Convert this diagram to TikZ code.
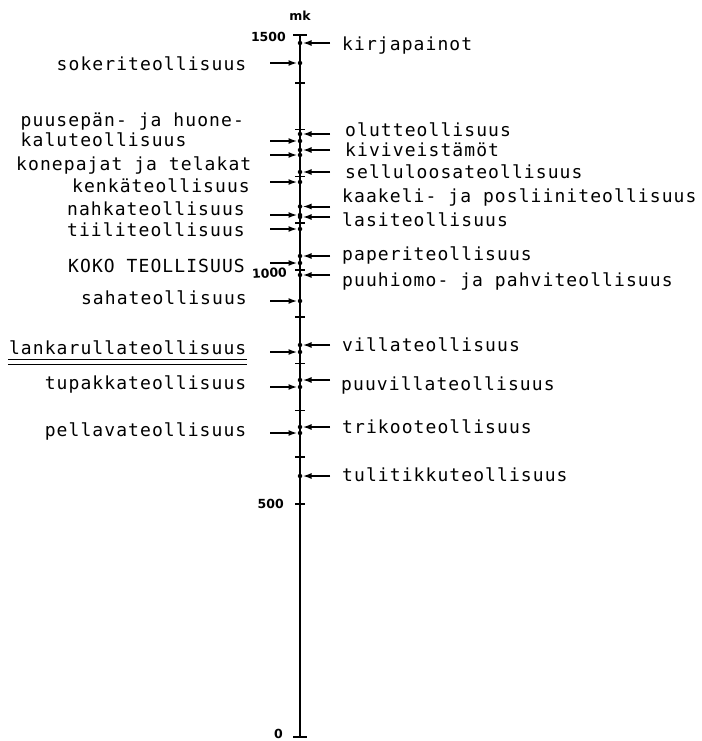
\documentclass[tikz,border=0pt]{standalone}
\usepackage{fontspec}
\newfontfamily\plotfont[LetterSpace=6]{DejaVu Sans Mono}
\newfontfamily\lukufont{DejaVu Sans}
\usetikzlibrary{arrows.meta}

\tikzset{
  akseli/.style={line width=2.6bp},
  jako/.style={line width=1.6bp},
  nuoli/.style={line width=2bp,-{Latex[length=9bp,width=6bp]}},
  teksti/.style={inner sep=0pt,font=\plotfont\fontsize{18bp}{20bp}\selectfont},
  luku/.style={inner sep=0pt,font=\lukufont\bfseries\fontsize{12.5bp}{13bp}\selectfont},
  piste/.style={fill,circle,inner sep=0pt,minimum size=4.5bp}
}

\begin{document}
\begin{tikzpicture}[x=1bp,y=-1bp]
  \useasboundingbox (0,0) rectangle (702,741);
  % asteikko
  \coordinate (yla) at (300,35);
  \coordinate (ala) at (300,737);
  \draw[akseli] (yla) -- (ala);
  \draw[jako] ([xshift=-7bp]yla) -- ([xshift=7bp]yla);
  \draw[jako] ([xshift=-7bp]ala) -- ([xshift=7bp]ala);
  \foreach \v in {500,600,...,1400}
    \draw[jako] (295,{738-0.468*\v}) -- (305,{738-0.468*\v});
  \node[luku,anchor=base] (mk) at (300,21) {mk};
  \node[luku,anchor=east] (m1500) at (286,37) {1500};
  \node[luku,anchor=east,rotate=4] (m1000) at (287,272) {1000};
  \node[luku,anchor=east] (m500) at (284,504) {500};
  \node[luku,anchor=east] (m0) at (283,733.5) {0};
  % vasen puoli
  \foreach \nimi/\yn/\yt/\xt/\teksti in {
      sokeri/63/71/246.5/sokeriteollisuus,
      konepaja/155/170.5/251.5/konepajat ja telakat,
      kenka/182/192.5/250/kenkäteollisuus,
      nahka/215/215.5/245/nahkateollisuus,
      tiili/229/236.5/245/tiiliteollisuus,
      koko/263/272.5/245/KOKO TEOLLISUUS,
      saha/301/304.5/247/sahateollisuus,
      lanka/352/354/246.5/lankarullateollisuus,
      tupakka/387/389.5/246.5/tupakkateollisuus,
      pellava/433/436.5/246.5/pellavateollisuus} {
    \coordinate (\nimi) at (300,\yn);
    \node[teksti,anchor=base east] (\nimi-t) at (\xt,\yt) {\teksti};
    \draw[nuoli] ([xshift=-30bp]\nimi) -- ([xshift=-2.5bp]\nimi);
    \node[piste] (\nimi-p) at (\nimi) {};
  }
  \coordinate (puuseppa) at (300,141);
  \node[teksti,anchor=base west] (puuseppa-t) at (20.5,146.5)
    {\begin{tabular}[b]{@{}l@{}}puusepän- ja huone-\\kaluteollisuus\end{tabular}};
  \draw[nuoli] ([xshift=-30bp]puuseppa) -- ([xshift=-2.5bp]puuseppa);
  \node[piste] (puuseppa-p) at (puuseppa) {};
  \draw[line width=1.3bp] ([shift={(-1bp,-5.5bp)}]lanka-t.base west) -- ([yshift=-5.5bp]lanka-t.base east);
  \draw[line width=1.3bp] ([shift={(-1bp,-10.5bp)}]lanka-t.base west) -- ([yshift=-10.5bp]lanka-t.base east);
  % oikea puoli
  \foreach \nimi/\yn/\yt/\xt/\teksti in {
      kirja/43/51/342/kirjapainot,
      olut/134/136.5/345/olutteollisuus,
      kivi/150/156.5/345/kiviveistämöt,
      sellu/172/178.5/345/selluloosateollisuus,
      kaakeli/206.5/202.5/342/kaakeli- ja posliiniteollisuus,
      lasi/217/226.5/342/lasiteollisuus,
      paperi/256/260.5/342/paperiteollisuus,
      puuhiomo/275/286.5/342/puuhiomo- ja pahviteollisuus,
      villa/345/351.5/342/villateollisuus,
      puuvilla/380/390.5/341/puuvillateollisuus,
      trikoo/427/433.5/342/trikooteollisuus,
      tulitikku/476/481.5/342/tulitikkuteollisuus} {
    \coordinate (\nimi) at (300,\yn);
    \node[teksti,anchor=base west] (\nimi-t) at (\xt,\yt) {\teksti};
    \draw[nuoli] ([xshift=30bp]\nimi) -- ([xshift=2.5bp]\nimi);
    \node[piste] (\nimi-p) at (\nimi) {};
  }
\end{tikzpicture}
\end{document}
